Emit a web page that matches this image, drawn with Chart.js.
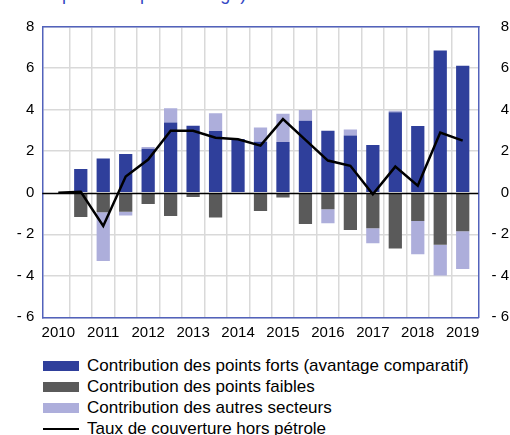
<!DOCTYPE html>
<html>
<head>
<meta charset="utf-8">
<script src="https://cdn.jsdelivr.net/npm/chart.js@4.4.1/dist/chart.umd.min.js"></script>
<style>
  html, body { margin:0; padding:0; background:#fff; }
  body { width:510px; height:435px; position:relative; overflow:hidden; font-family:"Liberation Sans", Arial, sans-serif; }
  #title { position:absolute; left:37px; top:-16px; font-size:18px; line-height:20px; color:#3447c4; white-space:nowrap; }
  #chart { position:absolute; left:0; top:0; }
  #legend { position:absolute; left:43px; top:355px; font-size:17px; color:#000; }
  .item { height:21px; display:flex; align-items:center; white-space:nowrap; }
  .sw { width:36px; height:10px; margin-right:8px; }
  .ln { width:36px; height:2px; margin-right:8px; background:#000; }
</style>
</head>
<body>
<div id="title">en points de pourcentage)</div>
<canvas id="chart" width="510" height="345"></canvas>
<div id="legend"></div>
<script>
(() => {
  // half-year periods, first one only carries the line
  const periods = [2010, 2010.5, 2011, 2011.5, 2012, 2012.5, 2013, 2013.5, 2014, 2014.5,
                   2015, 2015.5, 2016, 2016.5, 2017, 2017.5, 2018, 2018.5, 2019];
  const yearTicks = [2010, 2011, 2012, 2013, 2014, 2015, 2016, 2017, 2018, 2019];
  const gridMarks = [2010.25, 2010.75, 2011.25, 2011.75, 2012.25, 2012.75, 2013.25, 2013.75, 2014.25,
                     2014.75, 2015.25, 2015.75, 2016.25, 2016.75, 2017.25, 2017.75, 2018.25, 2018.75];

  // bars start at 2010.5
  const strong = [1.15, 1.65, 1.87, 2.12, 3.38, 3.23, 2.98, 2.59, 2.46, 2.45, 3.47, 2.99, 2.76, 2.30, 3.88, 3.22, 6.85, 6.12];
  const weak   = [-1.17, -0.94, -0.91, -0.54, -1.12, -0.20, -1.19, 0, -0.88, -0.23, -1.51, -0.79, -1.79, -1.71, -2.69, -1.36, -2.51, -1.85];
  const others = [0, -2.35, -0.19, 0.08, 0.69, 0, 0.85, 0, 0.68, 1.36, 0.52, -0.68, 0.29, -0.72, 0.07, -1.60, -1.48, -1.82];
  const cover  = [0, 0.05, -1.60, 0.78, 1.60, 2.99, 2.99, 2.65, 2.58, 2.27, 3.55, 2.55, 1.55, 1.30, -0.07, 1.26, 0.34, 2.90, 2.51];

  const names = [
    'Contribution des points forts (avantage comparatif)',
    'Contribution des points faibles',
    'Contribution des autres secteurs',
    'Taux de couverture hors pétrole'
  ];
  const colors = ['#2f3f9b', '#5a5a5a', '#adaedb', '#000000'];

  const BLUE = '#5262bb';
  const GRID = '#d9d9d9';
  const XMIN = 2009.644, XMAX = 2019.347;

  const barPeriods = periods.slice(1);
  const barSet = (i, vals) => ({
    type:'bar', label:names[i], backgroundColor:colors[i],
    data: barPeriods.map((p, k) => ({x:p, y:vals[k]})),
    barPercentage:0.59, categoryPercentage:1, xAxisID:'x', yAxisID:'y', stack:'bars'
  });

  const zeroLine = {
    id:'zeroLine',
    afterDatasetsDraw(chart) {
      const {ctx, chartArea:a, scales:{y}} = chart;
      const py = Math.round(y.getPixelForValue(0)) + 0.5;
      ctx.save();
      ctx.strokeStyle = '#000';
      ctx.lineWidth = 1.3;
      ctx.beginPath(); ctx.moveTo(a.left, py); ctx.lineTo(a.right, py); ctx.stroke();
      ctx.restore();
    }
  };

  const yLabel = v => v < 0 ? '- ' + (-v) : String(v);
  const tickFont = {family:'"Liberation Sans", Arial, sans-serif', size:15};

  new Chart(document.getElementById('chart'), {
    data: {
      datasets: [
        { type:'line', label:names[3], data: periods.map((p, k) => ({x:p, y:cover[k]})),
          borderColor:'#000', borderWidth:2.5, pointRadius:0, tension:0, borderJoinStyle:'miter',
          xAxisID:'x', yAxisID:'y', stack:'cover' },
        barSet(0, strong),
        barSet(1, weak),
        barSet(2, others)
      ]
    },
    options: {
      responsive:false, animation:false, devicePixelRatio:1,
      layout: { padding: {top:26.7, right:1, bottom:0, left:0} },
      plugins: { legend:{display:false}, tooltip:{enabled:false} },
      scales: {
        x: {
          type:'linear', position:'bottom', min:XMIN, max:XMAX, stacked:true, offset:false,
          afterBuildTicks: s => { s.ticks = yearTicks.map(v => ({value:v})); },
          afterFit: s => { s.height = 27.7; },
          ticks: { font:tickFont, color:'#000', padding:7, maxRotation:0, autoSkip:false, callback: v => String(v) },
          grid: { display:false, drawTicks:false, offset:false },
          border: { color:BLUE, width:1.5 }
        },
        xg: {
          type:'linear', position:'top', min:XMIN, max:XMAX, offset:false,
          afterBuildTicks: s => { s.ticks = gridMarks.map(v => ({value:v})); },
          afterFit: s => { s.height = 0; },
          ticks: { display:false },
          grid: { color:GRID, lineWidth:1.5, drawTicks:false, offset:false },
          border: { color:BLUE, width:1.5 }
        },
        y: {
          type:'linear', position:'left', min:-6, max:8, stacked:true,
          afterFit: s => { s.width = 42.3; },
          ticks: { stepSize:2, font:tickFont, color:'#000', padding:8, callback:yLabel },
          grid: { color: c => c.tick && c.tick.value === 0 ? 'rgba(0,0,0,0)' : GRID, lineWidth:1.5, drawTicks:false },
          border: { color:BLUE, width:1.5 }
        },
        y2: {
          type:'linear', position:'right', min:-6, max:8,
          afterFit: s => { s.width = 30.7; },
          ticks: { stepSize:2, font:tickFont, color:'#000', padding:8, crossAlign:'far', callback:yLabel },
          grid: { display:false, drawTicks:false },
          border: { color:BLUE, width:1.5 }
        }
      }
    },
    plugins: [zeroLine]
  });

  // legend, one entry per row
  const leg = document.getElementById('legend');
  names.forEach((n, i) => {
    const row = document.createElement('div');
    row.className = 'item';
    const mark = document.createElement('span');
    mark.className = i === 3 ? 'ln' : 'sw';
    if (i !== 3) mark.style.background = colors[i];
    row.appendChild(mark);
    row.appendChild(document.createTextNode(n));
    leg.appendChild(row);
  });
})();
</script>
</body>
</html>
